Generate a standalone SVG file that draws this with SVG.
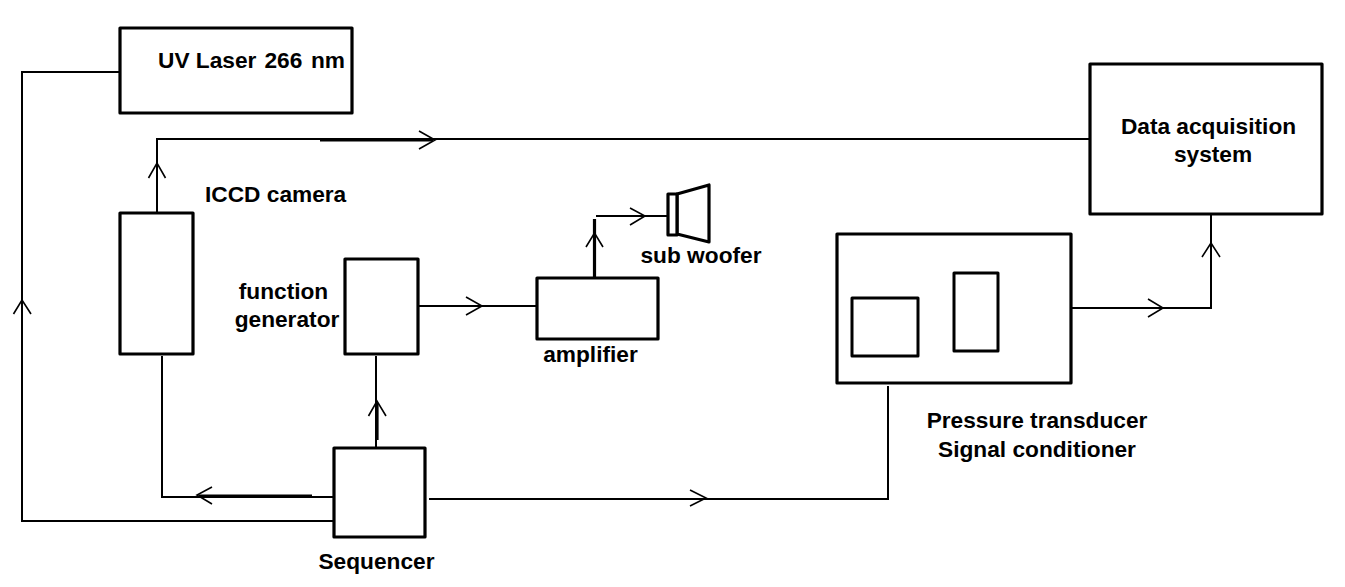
<svg xmlns="http://www.w3.org/2000/svg" width="1345" height="587" viewBox="0 0 1345 587">
<style>
.box{fill:#fff;stroke:#000;stroke-width:3.2;stroke-linejoin:round}
.inner{fill:#fff;stroke:#000;stroke-width:3;stroke-linejoin:round}
.c{fill:none;stroke:#000;stroke-width:2}
.t{fill:none;stroke:#000;stroke-width:3.2}
.a{fill:none;stroke:#000;stroke-width:1.6}
text{font-family:"Liberation Sans",Arial,sans-serif;font-weight:700;font-size:22.7px;fill:#000}
</style>
<rect width="1345" height="587" fill="#fff"/>
<g id="connectors">
<path class="c" d="M120 72H22V521H334"/>
<path class="a" d="M13.500 314L22 300L31 314"/>
<path class="c" d="M157 213V139H1090"/>
<path class="a" d="M148.500 178L157 163L165.500 178"/>
<path class="t" d="M320 140H433"/>
<path class="a" d="M419 131L435 140L419 149"/>
<path class="c" d="M334 497H162V356"/>
<path class="t" d="M199 496H312"/>
<path class="a" d="M212 487L197 495L212 504"/>
<path class="c" d="M376 450V356"/>
<path class="t" d="M377 403V440"/>
<path class="a" d="M368.500 416L377 401L386 416"/>
<path class="c" d="M429 499H888V386"/>
<path class="a" d="M690 490L706 498L690 506"/>
<path class="c" d="M418 306H537"/>
<path class="a" d="M466 297L482 306L466 315"/>
<path class="t" d="M594.500 278V219"/>
<path class="a" d="M586 247L594.500 233L603 247"/>
<path class="c" d="M596 216H668"/>
<path class="a" d="M630 208L645 216L630 225"/>
<path class="c" d="M1071 308H1211V214"/>
<path class="a" d="M1148 299L1163 308L1148 317"/>
<path class="a" d="M1202 257L1211 243L1220 257"/>
</g>
<g id="uv-laser"><rect class="box" x="120" y="28" width="232" height="85"/><text y="68"><tspan x="158">UV Laser </tspan><tspan x="264.500">266 </tspan><tspan x="311">nm</tspan></text></g>
<g id="iccd-camera"><rect class="box" x="120" y="213" width="73" height="141"/><text x="205" y="202">ICCD camera</text></g>
<g id="function-generator"><rect class="box" x="345" y="259" width="73" height="95"/><text x="283.500" y="299" text-anchor="middle">function</text><text x="287" y="327" text-anchor="middle">generator</text></g>
<g id="sequencer"><rect class="box" x="334" y="448" width="91" height="89"/><text x="376.500" y="569" text-anchor="middle">Sequencer</text></g>
<g id="amplifier"><rect class="box" x="537" y="278" width="121" height="61"/><text x="590.500" y="362" text-anchor="middle">amplifier</text></g>
<g id="sub-woofer"><path class="box" d="M677 194L709 185V242L677 234Z"/><rect class="box" x="668" y="194" width="9" height="41"/><text x="701" y="263" text-anchor="middle">sub woofer</text></g>
<g id="data-acquisition"><rect class="box" x="1090" y="64" width="232" height="150"/><text x="1208.500" y="134" text-anchor="middle">Data acquisition</text><text x="1213" y="162" text-anchor="middle">system</text></g>
<g id="pressure-transducer"><rect class="box" x="837" y="234" width="234" height="149"/><rect class="inner" x="852" y="298" width="66" height="58"/><rect class="inner" x="954" y="273" width="44" height="78"/><text x="1037" y="428" text-anchor="middle">Pressure transducer</text><text x="1037" y="457" text-anchor="middle">Signal conditioner</text></g>
</svg>
